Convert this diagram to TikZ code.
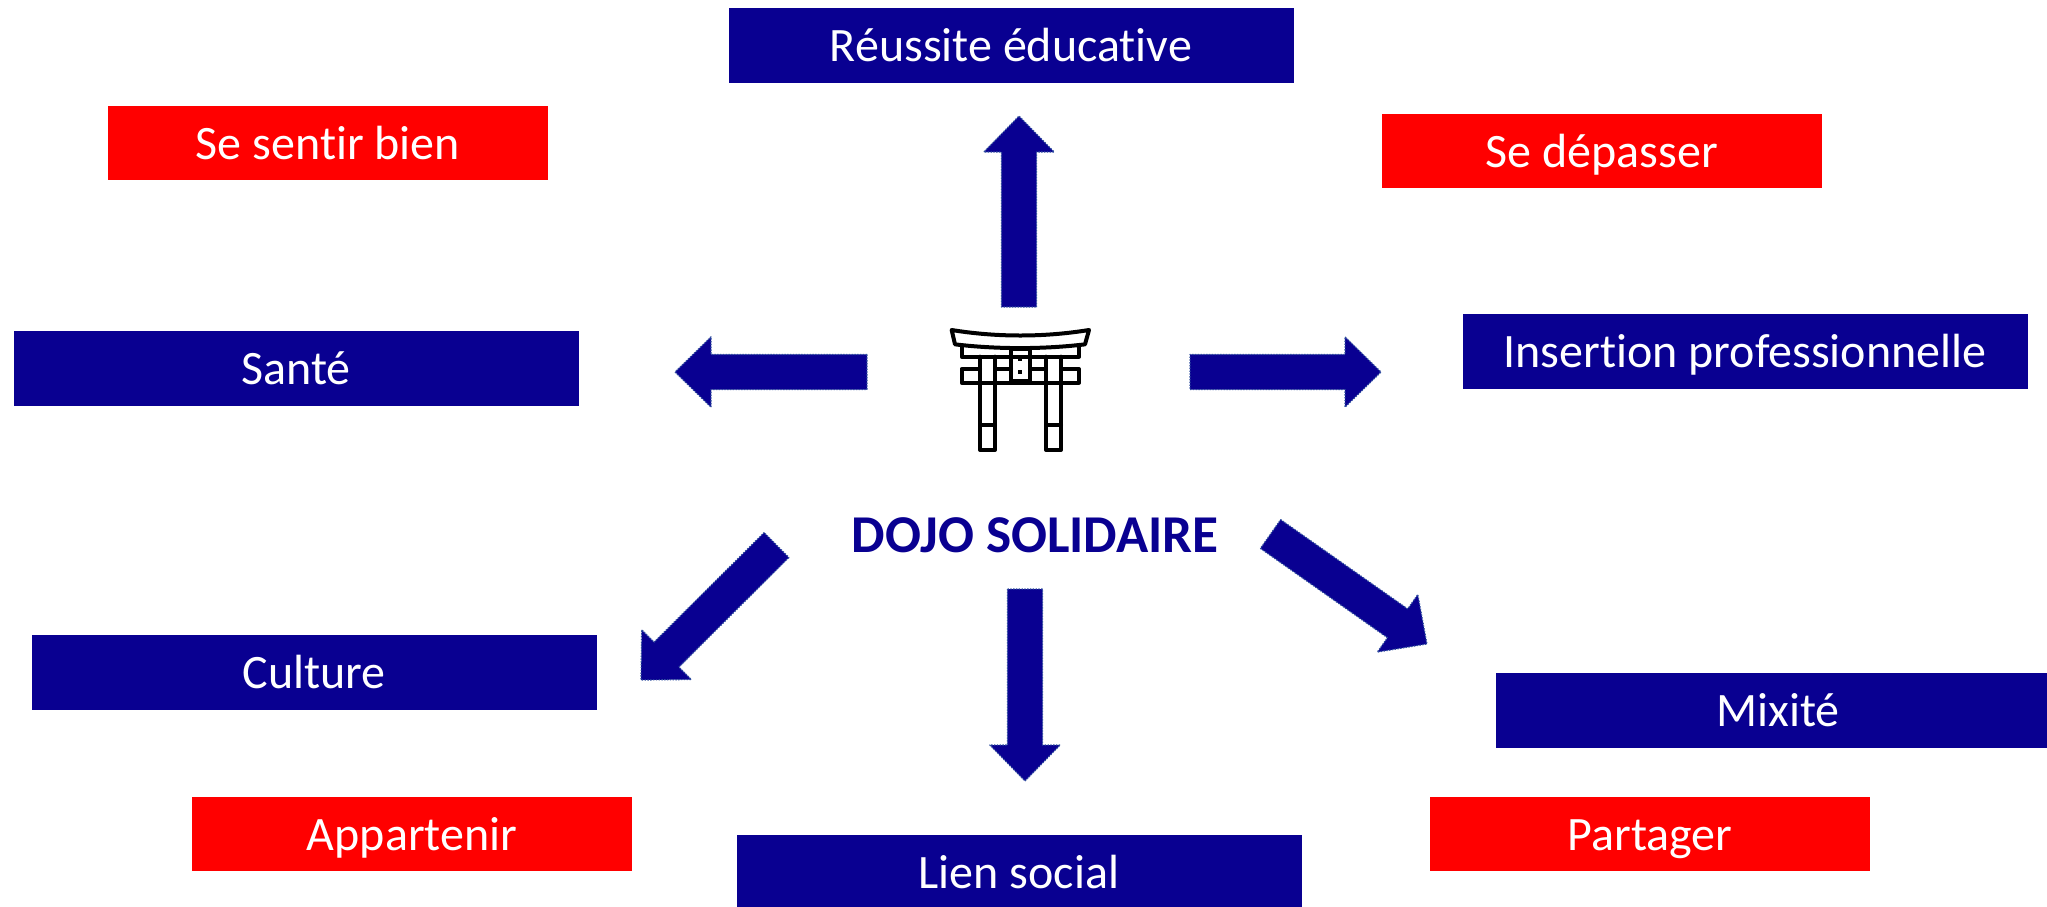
\documentclass[tikz,border=0pt]{standalone}
\usepackage{fontspec}
\setmainfont[Ligatures=NoCommon]{Carlito}
\usetikzlibrary{calc}
\definecolor{navy}{HTML}{090091}
\definecolor{edgeblue}{HTML}{2F4F9F}
\tikzset{
  x=0.5pt,y=-0.5pt,
  boxblue/.style={fill=navy,text=white,minimum height=37.5pt,inner sep=0pt,text height=17.3pt,text depth=0.4pt,font=\fontsize{24}{26}\selectfont,anchor=center},
  boxred/.style={fill=red,text=white,minimum height=37pt,minimum width=220pt,inner sep=0pt,text height=17.3pt,text depth=0.4pt,font=\fontsize{24}{26}\selectfont,anchor=center},
  blockarrow/.style={fill=navy,draw=edgeblue,line width=0.6pt,dash pattern=on 0.7pt off 0.7pt,line join=round},
  torii/.style={draw=black,line width=2pt,line join=round,line cap=round},
}
% #1 tail, #2 tip : arrow of fixed proportions between two named coordinates
\newcommand{\blockarrowbetween}[2]{%
  \coordinate (hb) at ($(#2)!18pt!(#1)$);
  \draw[blockarrow]
    ($(#1)!8.8pt!-90:(#2)$) --
    ($(hb)!8.8pt!-90:(#2)$) --
    ($(hb)!17.6pt!-90:(#2)$) --
    (#2) --
    ($(hb)!17.6pt!90:(#2)$) --
    ($(hb)!8.8pt!90:(#2)$) --
    ($(#1)!8.8pt!90:(#2)$) -- cycle;
}
\begin{document}
\begin{tikzpicture}
\useasboundingbox (0,0) rectangle (2047,906);
\clip (0,0) rectangle (2047,906);
\fill[white] (0,0) rectangle (2047,906);

% blue boxes
\node[boxblue,minimum width=282.5pt] (reussite) at (1011,45) {Réussite éducative};
\node[boxblue,minimum width=282.5pt] (sante) at (296,368) {Santé};
\node[boxblue,minimum width=282.5pt] (culture) at (314,672) {Culture};
\node[boxblue,minimum width=282.5pt] (lien) at (1019,872) {Lien social};
\node[boxblue,minimum width=282.5pt] (mixite) at (1778,710) {Mixité};
\node[boxblue,minimum width=282.5pt] (insertion) at (1745,351) {Insertion professionnelle};

% red boxes
\node[boxred] (bien) at (328,143) {Se sentir bien};
\node[boxred] (depasser) at (1602,151) {Se dépasser};
\node[boxred] (appartenir) at (412,834) {Appartenir};
\node[boxred] (partager) at (1650,834) {Partager};

% title
\node[text=navy,font=\bfseries\fontsize{26.6}{28}\selectfont,inner sep=0pt] (dojo) at (1035,535) {DOJO SOLIDAIRE};

% arrows
\coordinate (upT) at (1019,307);  \coordinate (upH) at (1019,116);
\coordinate (leT) at (867,372);   \coordinate (leH) at (675,372);
\coordinate (riT) at (1190,372);  \coordinate (riH) at (1381,372);
\coordinate (doT) at (1025,589);  \coordinate (doH) at (1025,781);
\coordinate (seT) at (1270.5,534);\coordinate (seH) at (1427,644);
\coordinate (swT) at (776.5,545); \coordinate (swH) at (641,680);
\blockarrowbetween{upT}{upH}
\blockarrowbetween{leT}{leH}
\blockarrowbetween{riT}{riH}
\blockarrowbetween{doT}{doH}
\blockarrowbetween{seT}{seH}
\blockarrowbetween{swT}{swH}

% torii gate icon (coordinates read at 3x from origin 930,310)
\begin{scope}[shift={(930,310)},x=0.16667pt,y=-0.16667pt]
  \draw[torii] (65,60) .. controls (200,82) and (342,82) .. (477,60) -- (465,103)
     .. controls (340,118) and (200,118) .. (75,103) -- cycle;
  \draw[torii] (95,108) -- (95,140) -- (447,140) -- (447,108);
  \draw[torii] (150,177) -- (95,177) -- (95,218) -- (447,218) -- (447,177) -- (393,177);
  \draw[torii] (195,177) -- (243,177) (300,177) -- (348,177);
  \draw[torii] (150,140) -- (150,420) -- (195,420) -- (195,140);
  \draw[torii] (348,140) -- (348,420) -- (393,420) -- (393,140);
  \draw[torii] (150,345) -- (195,345) (348,345) -- (393,345);
  \draw[torii] (243,118) -- (243,213) -- (300,213) -- (300,118) -- cycle;
  \fill (264,141) rectangle (277,154);
  \fill (264,179) rectangle (277,192);
\end{scope}
\end{tikzpicture}
\end{document}
